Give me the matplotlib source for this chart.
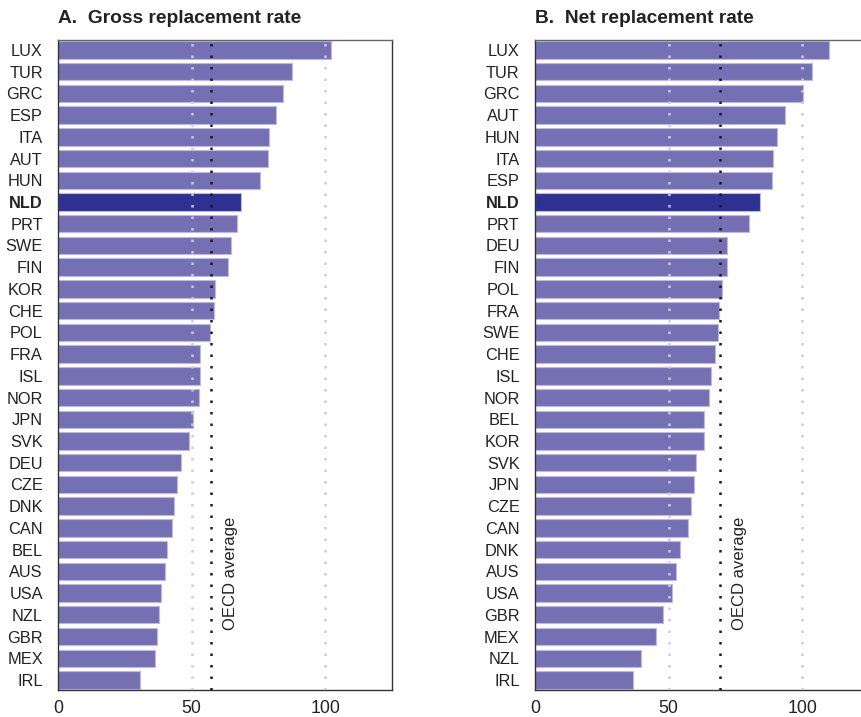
import matplotlib
matplotlib.use("Agg")
import matplotlib.pyplot as plt

plt.rcParams["font.family"] = ["Liberation Sans", "DejaVu Sans"]

gross_countries = ["LUX", "TUR", "GRC", "ESP", "ITA", "AUT", "HUN", "NLD", "PRT", "SWE",
                   "FIN", "KOR", "CHE", "POL", "FRA", "ISL", "NOR", "JPN", "SVK", "DEU",
                   "CZE", "DNK", "CAN", "BEL", "AUS", "USA", "NZL", "GBR", "MEX", "IRL"]
gross_values = [102.1, 87.5, 84.1, 81.5, 79.1, 78.5, 75.7, 68.4, 66.9, 64.9,
                63.5, 58.6, 58.4, 57.0, 53.1, 53.0, 52.6, 50.5, 48.9, 45.9,
                44.4, 43.5, 42.5, 40.9, 40.2, 38.7, 37.7, 37.2, 36.1, 30.7]
gross_oecd = 57.4

net_countries = ["LUX", "TUR", "GRC", "AUT", "HUN", "ITA", "ESP", "NLD", "PRT", "DEU",
                 "FIN", "POL", "FRA", "SWE", "CHE", "ISL", "NOR", "BEL", "KOR", "SVK",
                 "JPN", "CZE", "CAN", "DNK", "AUS", "USA", "GBR", "MEX", "NZL", "IRL"]
net_values = [110.1, 103.6, 100.1, 93.4, 90.7, 89.0, 88.5, 84.3, 79.9, 72.0,
              71.7, 69.8, 69.0, 68.4, 67.4, 65.9, 65.2, 63.3, 63.1, 60.4,
              59.3, 58.3, 57.3, 54.2, 52.6, 51.1, 47.7, 45.3, 39.6, 36.7]
net_oecd = 69.2

highlight = "NLD"
bar_color = "#7570b3"
highlight_color = "#2e3192"
grid_color = "#cdc9ea"

fig = plt.figure(figsize=(8.61, 7.17), dpi=100)


def draw_panel(ax, countries, values, oecd, title):
    rows = range(len(countries))
    colors = [highlight_color if c == highlight else bar_color for c in countries]
    ax.barh(rows, values, height=0.8, color=colors, edgecolor="#bdb9e0", linewidth=0.8, zorder=2)
    for x in (50, 100):
        ax.axvline(x, color=grid_color, linewidth=1.8, linestyle=(0, (1, 3.6)), zorder=3)
    ax.axvline(oecd, color="#1a1a1a", linewidth=1.8, linestyle=(0, (1, 3.6)), zorder=4)
    ax.text(oecd + 7.2, 24.1, "OECD average", rotation=90, ha="center", va="center",
            fontsize=12, color="#222222")
    ax.set_ylim(len(countries) - 0.54, -0.46)
    ax.set_xlim(0, 125)
    ax.set_xticks([0, 50, 100])
    ax.set_yticks(list(rows))
    ax.set_yticklabels(countries)
    for label in ax.get_yticklabels():
        if label.get_text() == highlight:
            label.set_fontweight("bold")
    ax.tick_params(axis="y", length=0, pad=11, labelsize=11.8, labelcolor="#222222")
    ax.tick_params(axis="x", length=0, pad=7, labelsize=12.8, labelcolor="#222222")
    for side, spine in ax.spines.items():
        spine.set_color("#333333")
        spine.set_linewidth(1.0)
    ax.spines["top"].set_color("#666666")
    ax.set_title(title, loc="left", fontsize=13.8, fontweight="bold", color="#222222", pad=12)


ax_gross = fig.add_axes([0.0674, 0.0377, 0.388, 0.9066])
draw_panel(ax_gross, gross_countries, gross_values, gross_oecd, "A.  Gross replacement rate")

ax_net = fig.add_axes([0.6214, 0.0377, 0.388, 0.9066])
draw_panel(ax_net, net_countries, net_values, net_oecd, "B.  Net replacement rate")

fig.savefig("out.png", dpi=100)
